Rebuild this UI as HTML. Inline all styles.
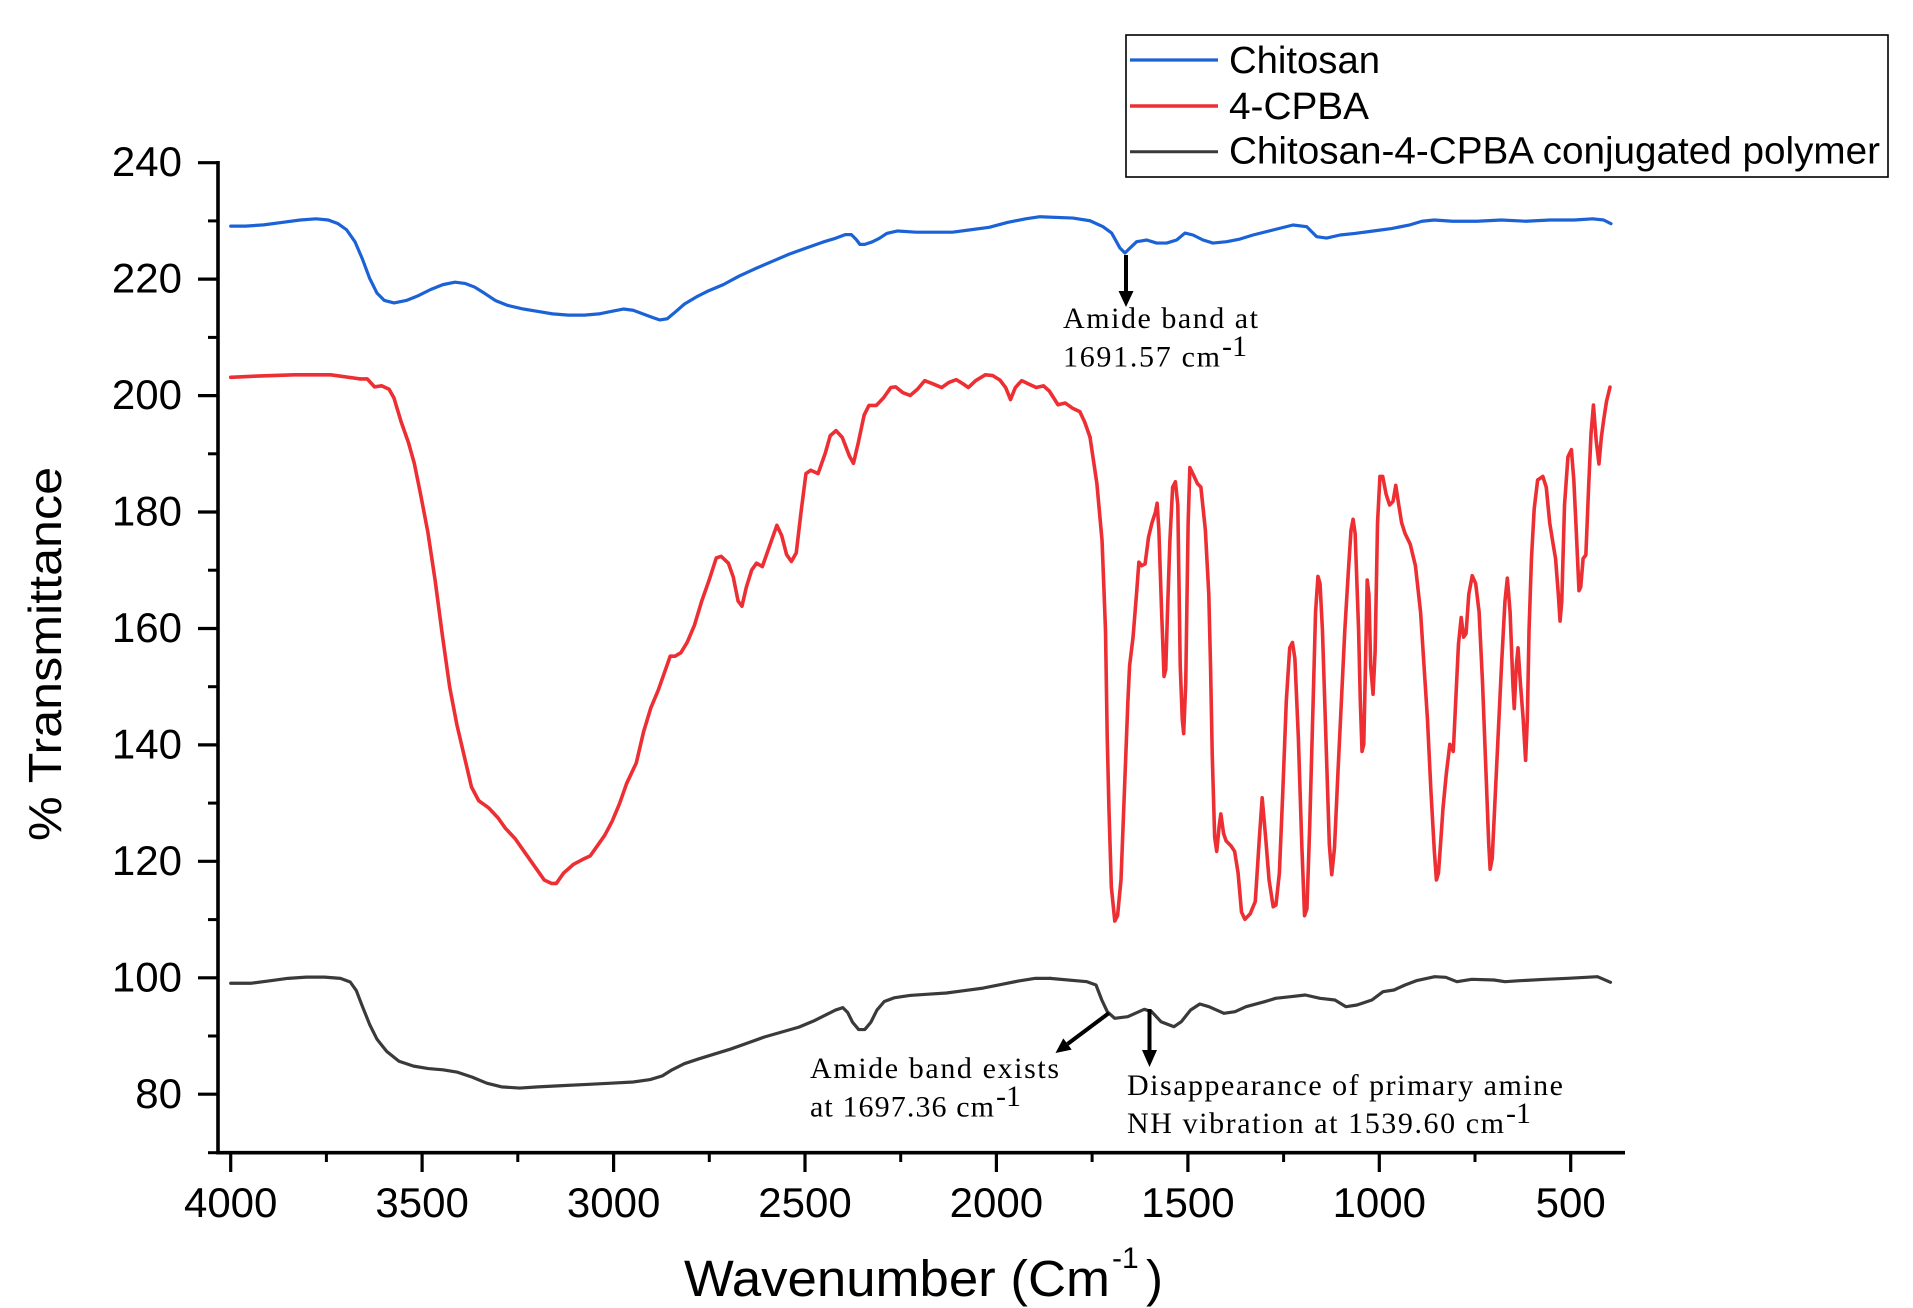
<!DOCTYPE html>
<html>
<head>
<meta charset="utf-8">
<style>
  html, body { margin: 0; padding: 0; background: #ffffff; }
  svg { display: block; }
  .tick { font-family: "Liberation Sans", Arial, sans-serif; font-size: 42px; fill: #000; }
  .ann { font-family: "Liberation Serif", "Times New Roman", serif; font-size: 30px; fill: #000; }
  .leg { font-family: "Liberation Sans", Arial, sans-serif; font-size: 38px; fill: #000; }
  .curve { fill: none; stroke-linejoin: round; stroke-linecap: round; }
</style>
</head>
<body>
<svg width="1913" height="1308" viewBox="0 0 1913 1308" xmlns="http://www.w3.org/2000/svg">
  <rect x="0" y="0" width="1913" height="1308" fill="#ffffff"/>

  <!-- ===== Curves ===== -->
  <!-- overview-coordinate group -->
  <g transform="translate(1.5,0.55) scale(1.2193,1.2192)">
    <!-- Chitosan (blue) -->
    <path class="curve" vector-effect="non-scaling-stroke" stroke="#1a62d6" stroke-width="3.2"
      d="M188,185 L200,185 L215,184 L230,182 L245,180 L258,179 L268,180 L276,183 L283,188 L290,198 L296,212 L302,228 L308,240 L314,246 L322,248 L332,246 L342,242 L352,237 L362,233 L372,231 L380,232 L388,235 L396,240 L405,246 L415,250 L428,253 L440,255 L452,257 L465,258 L478,258 L490,257 L500,255 L510,253 L518,254 L526,257 L534,260 L540,262 L546,261 L552,256 L560,249 L570,243 L580,238 L592,233 L605,226 L618,220 L632,214 L646,208 L660,203 L674,198 L684,195 L692,192 L697,192 L701,196 L704,200 L708,200 L714,198 L720,195 L726,191 L735,189 L750,190 L765,190 L780,190 L795,188 L810,186 L825,182 L840,179 L851.7,177.3 L878.8,178.4 L892.7,180.6 L903.4,185.5 L910.5,190.7 L917.3,203 L921.4,207.1 L925.5,203 L931,197.8 L939.2,196.4 L947.4,198.9 L955.6,198.9 L963.8,196.4 L970.6,190.7 L977.2,192.3 L985.4,196.4 L993.6,198.9 L1004.8,197.8 L1015.8,195.6 L1026.4,192.3 L1042.8,188.2 L1059.2,184.1 L1070.5,185.5 L1078.7,193.7 L1086.8,194.8 L1097.8,192.3 L1110,191 L1125,189 L1140,187 L1155,184 L1165,181 L1175,180 L1190,181 L1210,181 L1230,180 L1250,181 L1270,180 L1290,180 L1305,179 L1314,180 L1320,183"/>
    <!-- 4-CPBA (red) left flat start -->
    <path class="curve" vector-effect="non-scaling-stroke" stroke="#ed2f34" stroke-width="3.6"
      d="M188,309 L210,308 L240,307 L270,307 L294,310.3"/>
    <!-- conjugated (black) left part -->
    <path class="curve" vector-effect="non-scaling-stroke" stroke="#3a3a3a" stroke-width="3.2"
      d="M188,806 L205,806 L220,804 L235,802 L250,801 L265,801 L278,802 L286,805 L291,812 L296,825 L302,840 L308,852 L316,862 L326,870 L338,874 L350,876 L362,877 L374,879 L386,883 L398,888 L410,891 L425,892 L440,891 L460,890 L480,889 L500,888 L518,887 L532,885 L542,882 L550,877 L560,872 L572,868 L585,864 L598,860 L612,855 L626,850 L640,846 L654,842 L666,837 L676,832 L684,828 L690,826 L694,830 L698,838 L703,844 L708,844 L713,838 L718,828 L724,821 L732,818 L745,816 L760,815 L775,814 L790,812 L805,810 L820,807 L835,804 L848,802 L860,802"/>
  </g>

  <!-- red middle part (zoom12 coords) -->
  <g transform="translate(360,360) scale(0.48473,0.34435)">
    <path class="curve" vector-effect="non-scaling-stroke" stroke="#ed2f34" stroke-width="3.6"
      d="M0,55 L15,55 L30,78 L45,75 L60,85 L70,110 L85,180 L100,240 L112,300 L125,390 L140,500 L155,640 L170,800 L185,950 L200,1060 L215,1150 L230,1240 L245,1280 L265,1300 L285,1330 L300,1360 L320,1390 L340,1430 L360,1470 L380,1510 L395,1520 L405,1520 L420,1490 L440,1465 L460,1450 L475,1440 L490,1410 L505,1380 L520,1340 L535,1290 L550,1230 L570,1170 L585,1080 L600,1010 L615,960 L630,900 L640,860 L650,860 L662,850 L675,820 L690,770 L705,700 L720,640 L735,575 L745,570 L760,590 L770,630 L780,700 L788,715 L797,660 L808,610 L818,590 L830,600 L845,540 L860,480 L870,510 L880,565 L890,585 L900,560 L910,440 L920,330 L930,320 L945,330 L960,270 L970,220 L982,205 L995,225 L1010,280 L1018,300 L1028,240 L1040,160 L1050,132 L1065,132 L1080,110 L1095,80 L1105,78 L1120,95 L1135,103 L1150,85 L1165,60 L1180,68 L1200,80 L1215,65 L1230,57 L1245,70 L1255,80 L1270,60 L1290,43 L1305,45 L1320,58 L1332,80 L1342,115 L1352,80 L1365,60 L1380,70 L1395,80 L1410,75 L1422,90 L1440,130 L1455,125 L1470,140 L1485,150 L1495,180 L1506,224"/>
  </g>

  <!-- red right part (zoom8 coords) -->
  <g transform="translate(1090,380) scale(0.34435,0.35714)">
    <path class="curve" vector-effect="non-scaling-stroke" stroke="#ed2f34" stroke-width="3.6"
      d="M0,160 L20,290 L35,450 L45,700 L50,1000 L55,1200 L62,1420 L72,1515 L80,1500 L90,1400 L100,1150 L110,900 L115,800 L125,720 L135,600 L142,510 L150,520 L160,515 L170,440 L180,400 L190,370 L195,345 L200,420 L208,650 L215,830 L220,810 L225,650 L232,450 L240,300 L248,285 L255,350 L262,800 L268,950 L272,990 L278,850 L285,400 L290,245 L300,265 L312,290 L322,300 L335,420 L345,600 L350,800 L355,1050 L362,1280 L368,1320 L375,1250 L380,1215 L388,1270 L395,1290 L410,1305 L420,1320 L430,1380 L440,1490 L450,1510 L465,1495 L480,1460 L492,1280 L500,1170 L510,1280 L520,1400 L532,1475 L540,1470 L550,1380 L560,1150 L570,900 L580,750 L588,735 L595,780 L605,1000 L615,1300 L623,1500 L630,1480 L638,1250 L648,900 L655,650 L662,550 L668,570 L675,700 L685,1000 L695,1300 L702,1385 L710,1310 L720,1100 L730,900 L740,700 L750,540 L758,420 L764,390 L770,430 L780,700 L785,900 L790,1040 L795,1020 L800,800 L805,560 L810,600 L815,800 L822,880 L828,760 L835,400 L842,270 L850,270 L860,320 L870,350 L880,340 L888,295 L895,340 L905,400 L915,430 L930,460 L945,520 L960,650 L970,800 L980,950 L990,1150 L1000,1320 L1006,1400 L1012,1380 L1018,1300 L1025,1200 L1035,1100 L1045,1020 L1055,1040 L1062,900 L1070,740 L1078,665 L1085,720 L1092,710 L1100,600 L1110,548 L1120,570 L1130,650 L1140,850 L1150,1100 L1158,1300 L1162,1370 L1168,1340 L1175,1200 L1185,1000 L1195,800 L1205,620 L1212,555 L1220,650 L1228,850 L1232,920 L1238,800 L1243,750 L1250,850 L1258,950 L1265,1065 L1270,950 L1275,700 L1282,500 L1290,360 L1300,280 L1315,270 L1325,300 L1335,400 L1345,460 L1352,500 L1360,600 L1365,675 L1370,620 L1378,350 L1388,215 L1398,195 L1405,280 L1412,420 L1420,590 L1425,580 L1432,500 L1440,490 L1448,300 L1455,150 L1462,70 L1470,170 L1478,235 L1485,160 L1492,110 L1500,60 L1510,20"/>
  </g>

  <!-- black right part (actual coords) -->
  <path class="curve" stroke="#3a3a3a" stroke-width="3.2"
    d="M1050.1,978.4 L1087,981.7 L1096,985 L1101.8,1000 L1107.3,1011.7 L1114.7,1018.3 L1127.7,1016.7 L1144.3,1009.3 L1151.7,1011.7 L1161,1021.7 L1174,1026.7 L1181.3,1021.7 L1190.6,1010 L1199.8,1004 L1209,1006.7 L1223.9,1013.3 L1235,1011.7 L1246,1006.7 L1264.6,1001.7 L1275.7,998.3 L1290.5,996.7 L1305.3,995 L1320,998.3 L1334.9,1000 L1346,1006.7 L1357,1005 L1371.9,1000 L1383,991.7 L1394,990 L1405,985 L1416.3,980.7 L1434.7,976.7 L1445.8,977.3 L1456.9,981.7 L1471.8,979.3 L1494,980 L1505,981.7 L1519.8,980.7 L1545.7,979.3 L1568,978.3 L1597.5,976.7 L1610.5,982.3"/>

  <!-- ===== Axes ===== -->
  <g stroke="#000" stroke-linecap="butt">
    <line x1="218" y1="161" x2="218" y2="1154.5" stroke-width="3.6"/>
    <line x1="216.5" y1="1152.7" x2="1625" y2="1152.7" stroke-width="3.6"/>
    <!-- Y major ticks -->
    <g stroke-width="3.2">
      <line x1="198" y1="162.7" x2="218" y2="162.7"/>
      <line x1="198" y1="279.1" x2="218" y2="279.1"/>
      <line x1="198" y1="395.6" x2="218" y2="395.6"/>
      <line x1="198" y1="512.0" x2="218" y2="512.0"/>
      <line x1="198" y1="628.5" x2="218" y2="628.5"/>
      <line x1="198" y1="744.9" x2="218" y2="744.9"/>
      <line x1="198" y1="861.3" x2="218" y2="861.3"/>
      <line x1="198" y1="977.8" x2="218" y2="977.8"/>
      <line x1="198" y1="1094.2" x2="218" y2="1094.2"/>
    </g>
    <!-- Y minor ticks -->
    <g stroke-width="3">
      <line x1="208" y1="220.9" x2="218" y2="220.9"/>
      <line x1="208" y1="337.4" x2="218" y2="337.4"/>
      <line x1="208" y1="453.8" x2="218" y2="453.8"/>
      <line x1="208" y1="570.2" x2="218" y2="570.2"/>
      <line x1="208" y1="686.7" x2="218" y2="686.7"/>
      <line x1="208" y1="803.1" x2="218" y2="803.1"/>
      <line x1="208" y1="919.6" x2="218" y2="919.6"/>
      <line x1="208" y1="1036.0" x2="218" y2="1036.0"/>
      <line x1="208" y1="1152.7" x2="218" y2="1152.7"/>
    </g>
    <!-- X major ticks -->
    <g stroke-width="3.2">
      <line x1="230.7" y1="1152.7" x2="230.7" y2="1172"/>
      <line x1="422.1" y1="1152.7" x2="422.1" y2="1172"/>
      <line x1="613.6" y1="1152.7" x2="613.6" y2="1172"/>
      <line x1="805.0" y1="1152.7" x2="805.0" y2="1172"/>
      <line x1="996.4" y1="1152.7" x2="996.4" y2="1172"/>
      <line x1="1187.9" y1="1152.7" x2="1187.9" y2="1172"/>
      <line x1="1379.3" y1="1152.7" x2="1379.3" y2="1172"/>
      <line x1="1570.7" y1="1152.7" x2="1570.7" y2="1172"/>
    </g>
    <!-- X minor ticks -->
    <g stroke-width="3">
      <line x1="326.4" y1="1152.7" x2="326.4" y2="1162"/>
      <line x1="517.8" y1="1152.7" x2="517.8" y2="1162"/>
      <line x1="709.3" y1="1152.7" x2="709.3" y2="1162"/>
      <line x1="900.7" y1="1152.7" x2="900.7" y2="1162"/>
      <line x1="1092.1" y1="1152.7" x2="1092.1" y2="1162"/>
      <line x1="1283.6" y1="1152.7" x2="1283.6" y2="1162"/>
      <line x1="1475.0" y1="1152.7" x2="1475.0" y2="1162"/>
    </g>
  </g>

  <!-- Y tick labels -->
  <g class="tick" text-anchor="end">
    <text x="182" y="176">240</text>
    <text x="182" y="292.5">220</text>
    <text x="182" y="409">200</text>
    <text x="182" y="525.5">180</text>
    <text x="182" y="642">160</text>
    <text x="182" y="758.5">140</text>
    <text x="182" y="875">120</text>
    <text x="182" y="991.5">100</text>
    <text x="182" y="1108">80</text>
  </g>
  <!-- X tick labels -->
  <g class="tick" text-anchor="middle">
    <text x="230.7" y="1217">4000</text>
    <text x="422.1" y="1217">3500</text>
    <text x="613.6" y="1217">3000</text>
    <text x="805.0" y="1217">2500</text>
    <text x="996.4" y="1217">2000</text>
    <text x="1187.9" y="1217">1500</text>
    <text x="1379.3" y="1217">1000</text>
    <text x="1570.7" y="1217">500</text>
  </g>

  <!-- Axis titles -->
  <text transform="translate(61,841) rotate(-90)" x="0" y="0" font-family="Liberation Sans, Arial, sans-serif" font-size="46" textLength="374" lengthAdjust="spacingAndGlyphs">% Transmittance</text>
  <text x="684" y="1296" font-family="Liberation Sans, Arial, sans-serif" font-size="51" textLength="426" lengthAdjust="spacingAndGlyphs">Wavenumber (Cm</text>
  <text x="1112" y="1268" font-family="Liberation Sans, Arial, sans-serif" font-size="30">-1</text>
  <text x="1146" y="1296" font-family="Liberation Sans, Arial, sans-serif" font-size="51">)</text>

  <!-- Legend -->
  <rect x="1126" y="35" width="762" height="142" fill="none" stroke="#000" stroke-width="1.6"/>
  <line x1="1130" y1="60" x2="1218" y2="60" stroke="#1a62d6" stroke-width="3.2"/>
  <line x1="1130" y1="106" x2="1218" y2="106" stroke="#ed2f34" stroke-width="3.4"/>
  <line x1="1130" y1="151.7" x2="1218" y2="151.7" stroke="#3a3a3a" stroke-width="3"/>
  <text class="leg" x="1229" y="73" textLength="151" lengthAdjust="spacingAndGlyphs">Chitosan</text>
  <text class="leg" x="1229" y="119" textLength="140" lengthAdjust="spacingAndGlyphs">4-CPBA</text>
  <text class="leg" x="1229" y="163.5" textLength="651" lengthAdjust="spacingAndGlyphs">Chitosan-4-CPBA conjugated polymer</text>

  <!-- Annotations -->
  <!-- Arrow 1 (chitosan amide) -->
  <line x1="1126" y1="255" x2="1126" y2="294" stroke="#000" stroke-width="4"/>
  <polygon points="1118.5,291 1133.5,291 1126,307" fill="#000"/>
  <text class="ann" x="1063" y="328" textLength="195" lengthAdjust="spacing">Amide band at</text>
  <text class="ann" x="1063" y="366.7" textLength="157" lengthAdjust="spacing">1691.57 cm</text>
  <text class="ann" x="1222" y="356" font-size="19">-1</text>

  <!-- Arrow 2 (diagonal) -->
  <line x1="1109" y1="1013" x2="1067.5" y2="1044" stroke="#000" stroke-width="4"/>
  <polygon points="1071.7,1049.6 1063.3,1038.4 1055.5,1053" fill="#000"/>
  <text class="ann" x="810" y="1078" textLength="249" lengthAdjust="spacing">Amide band exists</text>
  <text class="ann" x="810" y="1116.7" textLength="184" lengthAdjust="spacing">at 1697.36 cm</text>
  <text class="ann" x="996" y="1106" font-size="19">-1</text>

  <!-- Arrow 3 (vertical) -->
  <line x1="1149.5" y1="1009" x2="1149.5" y2="1053" stroke="#000" stroke-width="4"/>
  <polygon points="1142,1050 1157,1050 1149.5,1067" fill="#000"/>
  <text class="ann" x="1127" y="1095" textLength="436" lengthAdjust="spacing">Disappearance of primary amine</text>
  <text class="ann" x="1127" y="1133" textLength="377" lengthAdjust="spacing">NH vibration at 1539.60 cm</text>
  <text class="ann" x="1506" y="1123" font-size="19">-1</text>
</svg>
</body>
</html>
